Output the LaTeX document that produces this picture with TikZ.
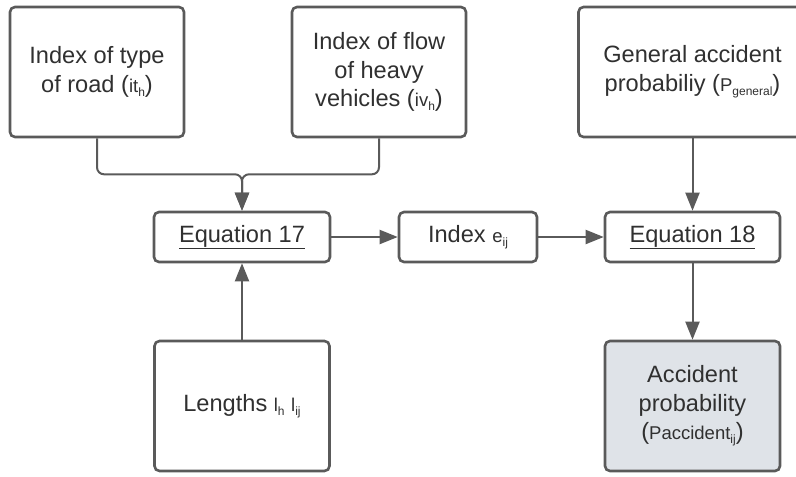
\documentclass[tikz,border=0pt]{standalone}
\usepackage{fontspec}
\setmainfont{Liberation Sans}
\usetikzlibrary{arrows.meta}
\definecolor{linegray}{HTML}{5A5A5A}
\definecolor{txtgray}{HTML}{303030}
\definecolor{accfill}{HTML}{DFE3E8}
\newcommand{\mysm}[1]{{\fontsize{18.5}{20}\selectfont #1}}
\newcommand{\mysub}[1]{\raisebox{-0.18em}{\fontsize{12}{12}\selectfont #1}}
\tikzset{
  box/.style={draw=linegray, line width=2.6pt, rounded corners=5pt, fill=white,
    text=txtgray, align=center, inner sep=0pt,
    font=\fontsize{23.6}{28.5}\selectfont},
  conn/.style={draw=linegray, line width=2pt, -{Triangle[length=18pt,width=14pt]}},
}
\begin{document}
\begin{tikzpicture}[x=1pt,y=-1pt]
\useasboundingbox (0,0) rectangle (796,477);
\begin{scope}
\clip (0,0) rectangle (796,477);
\node[box, minimum width=174pt, minimum height=130pt] (b1) at (97,72) {Index of type\\of road (\mysm{it}\mysub{h})};
\node[box, minimum width=174pt, minimum height=130pt] (b2) at (379,72) {Index of flow\\of heavy\\vehicles (\mysm{iv}\mysub{h})};
\node[box, minimum width=228pt, minimum height=130pt] (b3) at (692.5,72) {General accident\\probabiliy (\mysm{P}\mysub{general})};
\node[box, minimum width=176pt, minimum height=50pt] (eq17) at (242,237) {\underline{Equation 17}};
\node[box, minimum width=138pt, minimum height=50pt] (idx) at (468,237) {Index \mysm{e}\mysub{ij}};
\node[box, minimum width=175pt, minimum height=50pt] (eq18) at (692.5,237) {\underline{Equation 18}};
\node[box, minimum width=175pt, minimum height=130pt] (len) at (242,406) {Lengths \mysm{l}\mysub{h} \mysm{l}\mysub{ij}};
\node[box, fill=accfill, minimum width=175pt, minimum height=130pt] (acc) at (692.5,406) {Accident\\probability\\(\mysm{Paccident}\mysub{ij})};
\end{scope}
\draw[conn, rounded corners=7pt] (b1.south) -- ++(0,36) -| (eq17.north);
\draw[conn, rounded corners=7pt] (b2.south) -- ++(0,36) -| (eq17.north);
\draw[conn] (len.north) -- (eq17.south);
\draw[conn] (eq17.east) -- (idx.west);
\draw[conn] (idx.east) -- (eq18.west);
\draw[conn] (b3.south) -- (eq18.north);
\draw[conn] (eq18.south) -- (acc.north);
\end{tikzpicture}
\end{document}
